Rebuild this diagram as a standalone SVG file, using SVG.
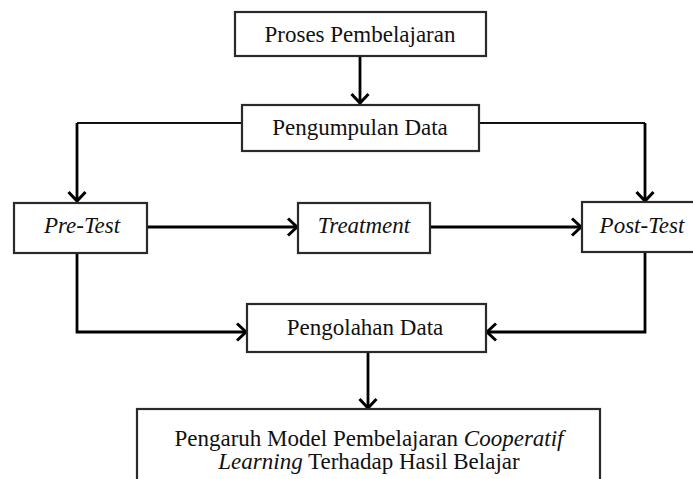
<svg xmlns="http://www.w3.org/2000/svg" width="693" height="479" viewBox="0 0 693 479">
<style>
.box{fill:#fff;stroke:#2a2a2a;stroke-width:2.2}
.t{font-family:'Liberation Serif','Times New Roman','DejaVu Serif',serif;font-size:23px;fill:#111;text-anchor:middle}
.i{font-style:italic}
.c{fill:none;stroke:#000;stroke-width:2.8}
.ct{fill:none;stroke:#111;stroke-width:2.2}
</style>
<defs>
<marker id="ah" markerUnits="userSpaceOnUse" markerWidth="24" markerHeight="24" viewBox="-12 -12 24 24" refX="0" refY="0" orient="auto">
<path d="M-9,-8.5 L0,0 L-9,8.5" fill="none" stroke="#000" stroke-width="3"/>
</marker>
</defs>
<g id="connectors">
<path class="c" d="M360,56 V103" marker-end="url(#ah)"/>
<path class="ct" d="M242,123 H77"/>
<path class="c" d="M77,123 V201" marker-end="url(#ah)"/>
<path class="ct" d="M479,123 H645"/>
<path class="c" d="M645,123 V201" marker-end="url(#ah)"/>
<path class="c" d="M147,227 H297" marker-end="url(#ah)"/>
<path class="c" d="M430,227 H581" marker-end="url(#ah)"/>
<path class="c" d="M77,253 V332 H246" marker-end="url(#ah)"/>
<path class="c" d="M645,252 V332 H487" marker-end="url(#ah)"/>
<path class="c" d="M368,352 V408" marker-end="url(#ah)"/>
</g>
<g font-family="Liberation Serif, serif">
<g id="proses">
<rect class="box" x="235" y="12" width="251" height="44"/>
<text class="t" x="360" y="42">Proses Pembelajaran</text>
</g>
<g id="pengumpulan">
<rect class="box" x="242" y="105" width="237" height="46"/>
<text class="t" x="360" y="135">Pengumpulan Data</text>
</g>
<g id="pretest">
<rect class="box" x="14" y="203" width="133" height="50"/>
<text class="t i" x="82" y="233">Pre-Test</text>
</g>
<g id="treatment">
<rect class="box" x="298" y="203" width="132" height="50"/>
<text class="t i" x="364" y="233">Treatment</text>
</g>
<g id="posttest">
<rect class="box" x="582" y="202" width="125" height="50"/>
<text class="t i" x="642" y="233">Post-Test</text>
</g>
<g id="pengolahan">
<rect class="box" x="247" y="304" width="239" height="48"/>
<text class="t" x="365" y="335">Pengolahan Data</text>
</g>
<g id="pengaruh">
<rect class="box" x="137" y="409" width="463" height="90"/>
<text class="t" x="369" y="446">Pengaruh Model Pembelajaran <tspan class="i">Cooperatif</tspan></text>
<text class="t" x="369" y="469"><tspan class="i">Learning</tspan> Terhadap Hasil Belajar</text>
</g>
</g>
</svg>
